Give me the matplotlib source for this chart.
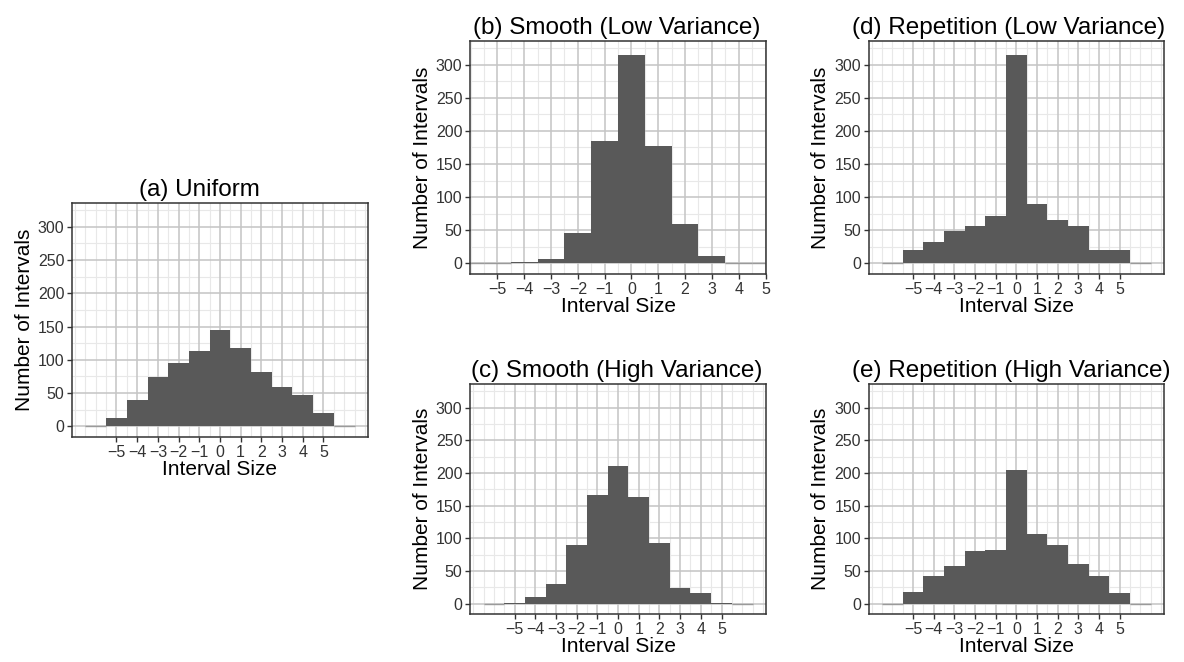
import numpy as np
import matplotlib.pyplot as plt

plt.rcParams['font.family'] = ['Liberation Sans', 'DejaVu Sans']

# interval sizes (bin centres) and counts
bins_wide = list(range(-6, 7))
bins_b = list(range(-6, 6))

uniform = [0, 12, 39, 74, 95, 113, 145, 118, 82, 59, 47, 20, 0]
smooth_low = [0, 0, 1.5, 6.5, 46, 184, 314, 177, 59, 11, 0, 0]
smooth_high = [0, 1, 10, 30, 89, 166, 211, 163, 92, 24, 16, 1, 0]
rep_low = [0, 21, 33, 49, 56, 71, 314, 89, 65, 57, 21, 20, 0]
rep_high = [0, 18, 42, 57, 81, 82, 204, 106, 90, 61, 42, 16, 0]

titles = ['(a) Uniform', '(b) Smooth (Low Variance)', '(c) Smooth (High Variance)',
          '(d) Repetition (Low Variance)', '(e) Repetition (High Variance)']
xticks = list(range(-5, 6))
yticks = [0, 50, 100, 150, 200, 250, 300]

fig = plt.figure(figsize=(11.84, 6.62), dpi=100)

# panel rectangles in figure fractions, plus title x position in axes fraction
rects = [
    [0.0608, 0.340, 0.250, 0.3535],
    [0.3970, 0.586, 0.250, 0.3525],
    [0.3970, 0.0725, 0.250, 0.3474],
    [0.7337, 0.586, 0.2494, 0.3525],
    [0.7337, 0.0725, 0.2494, 0.3474],
]
title_x = [0.43, 0.495, 0.495, 0.475, 0.482]
panels = [
    (bins_wide, uniform, (-7.15, 7.15)),
    (bins_b, smooth_low, (-6.02, 5.02)),
    (bins_wide, smooth_high, (-7.15, 7.15)),
    (bins_wide, rep_low, (-7.15, 7.15)),
    (bins_wide, rep_high, (-7.15, 7.15)),
]

minor_x = [v for v in np.arange(-7, 7.01, 0.5) if v not in xticks]
minor_y = [25, 75, 125, 175, 225, 275, 325]

for rect, (bins, counts, xlim), title, tx in zip(rects, panels, titles, title_x):
    ax = fig.add_axes(rect)
    ax.set_facecolor('white')
    for v in minor_x:
        ax.axvline(v, color='#e8e8e8', lw=0.8, zorder=0)
    for v in minor_y:
        ax.axhline(v, color='#e8e8e8', lw=0.8, zorder=0)
    for v in xticks:
        ax.axvline(v, color='#c4c4c4', lw=1.1, zorder=0.5)
    for v in yticks:
        ax.axhline(v, color='#c4c4c4', lw=1.1, zorder=0.5)

    ax.bar(bins, counts, width=1.0, color='#595959', linewidth=0, zorder=2)
    # empty bins show as a flat line on the baseline
    for b, c in zip(bins, counts):
        if c == 0:
            ax.hlines(0, b - 0.5, b + 0.5, color='#9a9a9a', lw=1.0, zorder=2)

    ax.set_xlim(*xlim)
    ax.set_ylim(-16, 336)
    ax.set_xticks(xticks)
    ax.set_xticklabels([str(t).replace('-', '\u2212') for t in xticks])
    ax.set_yticks(yticks)
    ax.tick_params(labelsize=11.5, length=3.5, width=1, color='#333333',
                   labelcolor='#333333', pad=2)
    for s in ax.spines.values():
        s.set_color('#333333')
        s.set_linewidth(1.1)
    ax.set_title(title, fontsize=17.5, pad=5, x=tx)
    ax.set_xlabel('Interval Size', fontsize=15, labelpad=0)
    ax.set_ylabel('Number of Intervals', fontsize=15, labelpad=3)

plt.savefig('out.png', dpi=100)
